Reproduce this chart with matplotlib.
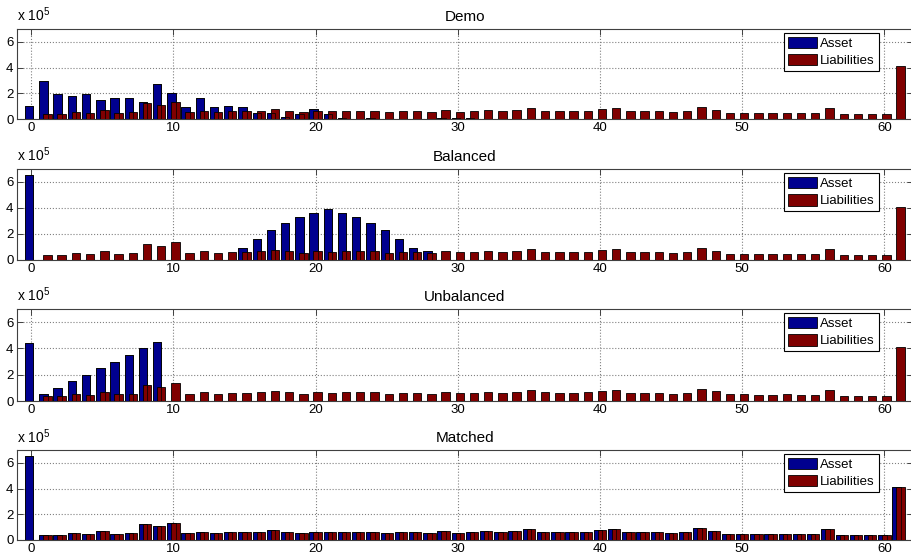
import matplotlib.pyplot as plt
import numpy as np

plt.rcParams['font.family'] = ['Liberation Sans', 'DejaVu Sans']
plt.rcParams['mathtext.fontset'] = 'custom'
plt.rcParams['mathtext.rm'] = 'Liberation Sans'

# periods and cash flows (units of 1e5)
periods = np.arange(62)

liabilities = [0.0, 0.4, 0.4, 0.56, 0.46, 0.71, 0.5, 0.54, 1.25, 1.09,
               1.35, 0.55, 0.66, 0.56, 0.6, 0.62, 0.66, 0.77, 0.66, 0.54,
               0.66, 0.61, 0.66, 0.66, 0.66, 0.55, 0.6, 0.6, 0.56, 0.72,
               0.58, 0.61, 0.72, 0.6, 0.67, 0.82, 0.65, 0.61, 0.61, 0.65,
               0.77, 0.87, 0.61, 0.61, 0.61, 0.56, 0.61, 0.92, 0.73, 0.5,
               0.5, 0.48, 0.46, 0.5, 0.46, 0.46, 0.82, 0.41, 0.41, 0.41,
               0.36, 4.1]

asset_demo = [1.0, 2.96, 1.93, 1.8, 1.93, 1.47, 1.6, 1.6, 1.29, 2.73,
              2.04, 0.9, 1.6, 0.95, 1.03, 0.9, 0.46, 0.44, 0.18, 0.41,
              0.77, 0.36, 0.05, 0.02, 0.05, 0.02, 0.01, 0.01, 0.01, 0.04,
              0.05, 0.05, 0.03, 0.02, 0, 0, 0, 0, 0, 0,
              0, 0, 0, 0, 0, 0, 0, 0, 0, 0,
              0, 0, 0, 0, 0, 0, 0, 0, 0, 0,
              0, 0]

asset_balanced = [6.55, 0, 0, 0, 0, 0, 0, 0, 0, 0,
                  0, 0, 0, 0, 0, 0.89, 1.63, 2.33, 2.86, 3.3,
                  3.62, 3.93, 3.62, 3.27, 2.86, 2.27, 1.63, 0.89, 0.69, 0,
                  0, 0, 0, 0, 0, 0, 0, 0, 0, 0,
                  0, 0, 0, 0, 0, 0, 0, 0, 0, 0,
                  0, 0, 0, 0, 0, 0, 0, 0, 0, 0,
                  0, 0]

asset_unbalanced = [4.43, 0.5, 1.0, 1.5, 2.0, 2.5, 3.0, 3.5, 4.0, 4.5,
                    0, 0, 0, 0, 0, 0, 0, 0, 0, 0,
                    0, 0, 0, 0, 0, 0, 0, 0, 0, 0,
                    0, 0, 0, 0, 0, 0, 0, 0, 0, 0,
                    0, 0, 0, 0, 0, 0, 0, 0, 0, 0,
                    0, 0, 0, 0, 0, 0, 0, 0, 0, 0,
                    0, 0]

asset_matched = [6.55, 0.4, 0.4, 0.56, 0.46, 0.71, 0.5, 0.54, 1.25, 1.09,
                 1.35, 0.55, 0.66, 0.56, 0.6, 0.62, 0.66, 0.77, 0.66, 0.54,
                 0.66, 0.61, 0.66, 0.66, 0.66, 0.55, 0.6, 0.6, 0.56, 0.72,
                 0.58, 0.61, 0.72, 0.6, 0.67, 0.82, 0.65, 0.61, 0.61, 0.65,
                 0.77, 0.87, 0.61, 0.61, 0.61, 0.56, 0.61, 0.92, 0.73, 0.5,
                 0.5, 0.48, 0.46, 0.5, 0.46, 0.46, 0.82, 0.41, 0.41, 0.41,
                 0.36, 4.1]

titles = ['Demo', 'Balanced', 'Unbalanced', 'Matched']
assets = [asset_demo, asset_balanced, asset_unbalanced, asset_matched]

blue = '#00008f'
red = '#800000'
frame = '#404040'

fig = plt.figure(figsize=(9.11, 5.57), dpi=100)

# axes rectangles in pixels: (top, bottom)
rows = [(29, 119), (169, 260), (309, 401), (450, 540)]
W, H = 911.0, 557.0
left_px = 17

for (top, bot), title, asset in zip(rows, titles, assets):
    ax = fig.add_axes([left_px / W, 1 - bot / H, (W - left_px) / W + 0.002, (bot - top) / H])
    ax.bar(periods - 0.14, asset, width=0.59, color=blue, edgecolor='k', lw=0.6, label='Asset', zorder=2)
    ax.bar(periods + 0.14, liabilities, width=0.59, color=red, edgecolor='k', lw=0.6, label='Liabilities', zorder=3)
    # asset outlines drawn over the overlap like the original renderer
    ax.bar(periods - 0.14, asset, width=0.59, facecolor='none', edgecolor='k', lw=0.5, zorder=4)

    ax.set_xlim(-1, 62)
    ax.set_ylim(0, 7)
    ax.set_xticks([0, 10, 20, 30, 40, 50, 60])
    ax.set_yticks([0, 2, 4, 6])
    ax.tick_params(direction='in', top=True, right=True, length=4, width=0.7,
                   labelsize=9.5, color=frame, pad=2.5)
    ax.grid(True, linestyle=':', color='#808080', linewidth=0.8)
    ax.set_axisbelow(True)
    for s in ax.spines.values():
        s.set_color(frame)
        s.set_linewidth(0.8)

    ax.set_title(title, fontsize=11, pad=6)
    ax.text(0, 1.05, 'x 10$^{5}$', transform=ax.transAxes, fontsize=10, ha='left', va='bottom')

    leg = ax.legend(loc='upper right', bbox_to_anchor=(0.962, 0.956), borderaxespad=0,
                    fontsize=9.5, fancybox=False, framealpha=1, edgecolor='k',
                    handlelength=2.2, handleheight=0.95, handletextpad=0.25,
                    borderpad=0.3, labelspacing=0.3)
    leg.get_frame().set_linewidth(0.8)

fig.savefig('out.png', dpi=100)
